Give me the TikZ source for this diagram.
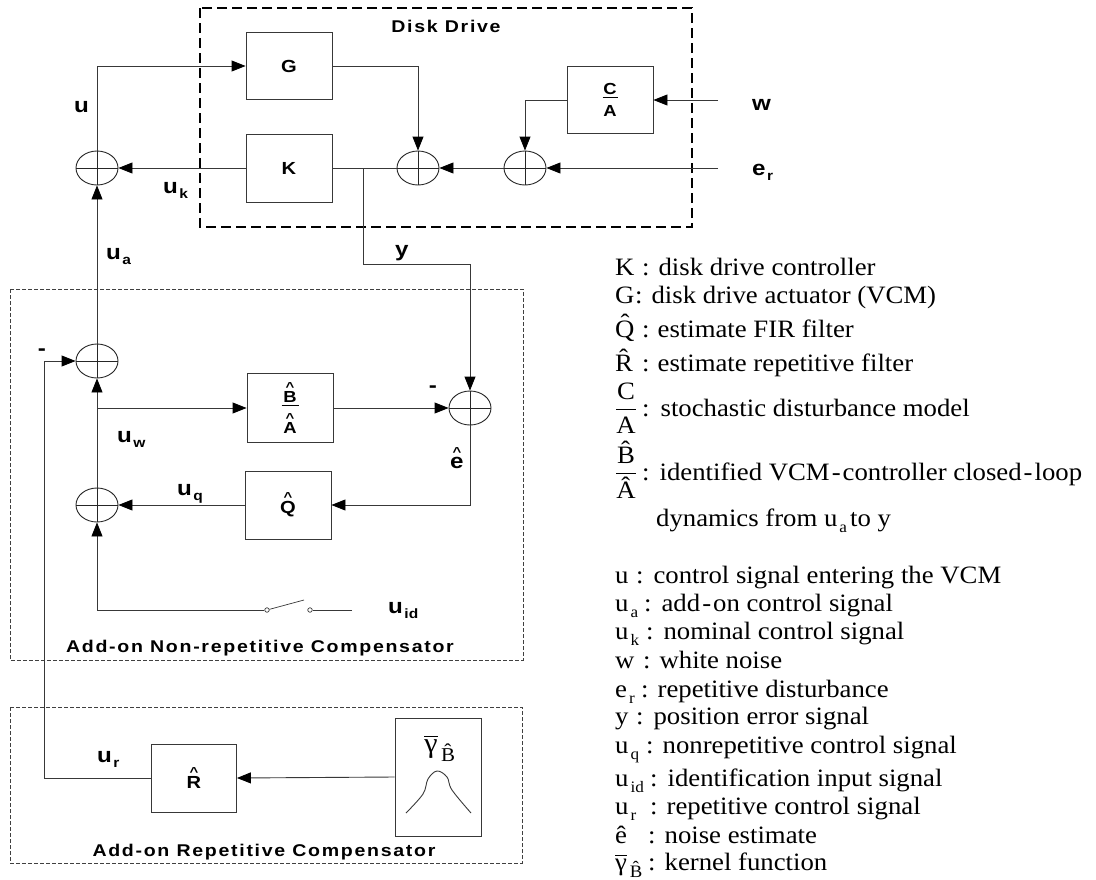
\documentclass[tikz,border=0pt]{standalone}
\usepackage{fontspec}
\usepackage{amsmath}
\usetikzlibrary{shapes.geometric,arrows.meta}
\setmainfont{Liberation Serif}
\newfontfamily\lab{Liberation Sans}[FakeStretch=1.15]
\newfontfamily\labsp{Liberation Sans}[FakeStretch=1.15,LetterSpace=10]
\newfontfamily\legf{Liberation Serif}[FakeStretch=1.07]
\newcommand\hatc[2][13]{\vbox{\offinterlineskip\halign{\hfil##\hfil\cr{\fontsize{#1}{#1}\selectfont\char`\^}\cr\noalign{\kern0pt}#2\cr}}}
\newcommand\fracbox[3]{\vbox{\offinterlineskip\halign{\hfil##\hfil\cr#1\cr\noalign{\kern2pt}\rule{#3}{1.3pt}\cr\noalign{\kern7pt}#2\cr}}}
\newcommand\sbs[1]{\hspace{1.5pt}\raisebox{-5pt}{\fontsize{13.5}{14}\selectfont#1}}
\newcommand\lsub[1]{\hspace{2pt}\raisebox{-6pt}{\fontsize{16}{16}\selectfont#1}}
\newcommand\legpre[3]{\makebox[#1pt][l]{#2}:\hspace{#3pt}}
\newcommand\hy{\hspace{2pt}-\hspace{2pt}}
\begin{document}
\begin{tikzpicture}[x=1pt,y=-1pt,
 conn/.style={draw=black!78, line width=0.9pt},
 arr/.style={conn, -{Triangle[length=14pt,width=11pt,color=black]}},
 blk/.style={draw=black!78, line width=0.9pt, minimum width=86pt, minimum height=68pt, inner sep=0pt, font=\lab\bfseries\fontsize{17.5}{20}\selectfont},
 sumj/.style={ellipse, draw=black!85, line width=0.9pt, minimum width=42pt, minimum height=34pt, inner sep=0pt,
   path picture={\draw[black!85, line width=0.9pt] (path picture bounding box.west) -- (path picture bounding box.east) (path picture bounding box.north) -- (path picture bounding box.south);}},
 sig/.style={inner sep=0pt, anchor=base west, font=\lab\bfseries\fontsize{21}{24}\selectfont},
 ttl/.style={inner sep=0pt, anchor=base, font=\labsp\bfseries\fontsize{17}{20}\selectfont},
 leg/.style={inner sep=0pt, anchor=base west, font=\legf\fontsize{25}{28}\selectfont},
 bigdash/.style={draw=black, line width=2.5pt, dash pattern=on 10pt off 5pt},
 smalldash/.style={draw=black!75, line width=0.8pt, dash pattern=on 4pt off 2pt},
 swc/.style={circle, draw=black!78, line width=0.7pt, fill=white, inner sep=0pt, minimum size=4.5pt}
]
\useasboundingbox (0,0) rectangle (1096,879);

% enclosing boxes
\draw[bigdash] (200,8) rectangle (692,227);
\draw[smalldash] (10,289) rectangle (523,660);
\draw[smalldash] (10,707) rectangle (522,863);

% titles
\node[ttl] (tdd) at (446,32) {Disk Drive};
\node[ttl] (tnr) at (260,652) {Add-on Non-repetitive Compensator};
\node[ttl] (trp) at (264,856) {Add-on Repetitive Compensator};

% blocks
\node[blk, minimum height=67pt] (G) at (289,66) {G};
\node[blk] (K) at (289,168) {K};
\node[blk, minimum height=67pt, font=\lab\bfseries\fontsize{16}{19}\selectfont] (CA) at (610,100) {\fracbox{C}{A}{15pt}};
\node[blk, minimum height=69pt, font=\lab\bfseries\fontsize{16}{19}\selectfont] (BA) at (290,408) {\fracbox{\hatc{B}}{\hatc{A}}{17pt}};
\node[blk] (Q) at (288,505) {\hatc{Q}};
\node[blk, minimum width=85pt] (R) at (194,778) {\hatc{R}};
\node[blk, minimum height=118pt] (kern) at (438,777) {};
\node[inner sep=0pt, font=\legf\fontsize{28}{30}\selectfont] (gam) at (440,748) {$\overline{\mbox{γ}}_{\,\text{\^{B}}}$};
\draw[conn] plot[smooth, tension=0.6] coordinates {(406,813) (423,794) (428,779) (437,771) (447,777) (452,790) (471,813)};

% summing junctions
\node[sumj] (s1) at (97,168) {};
\node[sumj] (s2) at (418,168) {};
\node[sumj] (s3) at (525,168) {};
\node[sumj] (s4) at (470,408) {};
\node[sumj] (s5) at (97,361) {};
\node[sumj] (s6) at (97,505) {};

% switch
\node[swc] (sw1) at (267,610) {};
\node[swc] (sw2) at (310,610) {};
\coordinate (blade) at (304,600);
\coordinate (uidin) at (352,610);

% free ends / branch points
\coordinate (win) at (718,100);
\coordinate (erin) at (718,168);
\coordinate (yb) at (363,168);
\coordinate (yc) at (363,264);
\coordinate (wb) at (97,408);
\coordinate (rc) at (44,778);

% connectors
\draw[arr] (s1.north) |- (G.west);
\draw[arr] (K.west) -- (s1.east);
\draw[arr] (G.east) -| (s2.north);
\draw[arr] (CA.west) -| (s3.north);
\draw[arr] (win) -- (CA.east);
\draw[arr] (erin) -- (s3.east);
\draw[arr] (s3.west) -- (s2.east);
\draw[conn] (s2.west) -- (K.east);
\draw[arr] (yb) -- (yc) -| (s4.north);
\draw[arr] (BA.east) -- (s4.west);
\draw[arr] (s4.south) |- (Q.east);
\draw[arr] (Q.west) -- (s6.east);
\draw[arr] (s6.north) -- (s5.south);
\draw[arr] (wb) -- (BA.west);
\draw[arr] (s5.north) -- (s1.south);
\draw[arr] (R.west) -- (rc) |- (s5.west);
\draw[arr] (kern.west) -- (R.east);
\draw[conn] (uidin) -- (sw2);
\draw[conn, line width=0.7pt] (sw1) -- (blade);
\draw[arr] (sw1) -| (s6.south);

% signal labels
\node[sig] (lu) at (74,112) {u};
\node[sig] (luk) at (163,193) {u\sbs{k}};
\node[sig] (lua) at (106,259) {u\sbs{a}};
\node[sig] (ly) at (395,256) {y};
\node[sig] (lw) at (752,110) {w};
\node[sig] (ler) at (752,175) {e\sbs{r}};
\node[sig] (luw) at (117,442) {u\sbs{w}};
\node[sig] (luq) at (177,495) {u\sbs{q}};
\node[sig] (luid) at (388,613) {u\sbs{id}};
\node[sig] (lur) at (97,762) {u\sbs{r}};
\node[sig] (leh) at (450,468) {\hatc{e}};
\node[inner sep=0pt, font=\lab\bfseries\fontsize{21}{24}\selectfont] (m1) at (42,352) {-};
\node[inner sep=0pt, font=\lab\bfseries\fontsize{21}{24}\selectfont] (m2) at (433,389) {-};

% legend
\node[leg] (l1) at (615,275) {\legpre{27}{K}{9}disk drive controller};
\node[leg] (l2) at (615,303) {\legpre{20}{G}{9}disk drive actuator (VCM)};
\node[leg] (l3) at (615,337) {\legpre{27}{\^{Q}}{8}estimate FIR filter};
\node[leg] (l4) at (615,371) {\legpre{27}{\^{R}}{8}estimate repetitive filter};
\node[leg] (l5) at (615,416) {\legpre{27}{$\displaystyle\frac{\mbox{C}}{\mbox{A}}$}{11}stochastic disturbance model};
\node[leg] (l6) at (615,480) {\legpre{27}{$\displaystyle\frac{\mbox{\^{B}}}{\mbox{\^{A}}}$}{10}identified VCM\hy controller closed\hy loop};
\node[leg] (l7) at (656,526) {dynamics from u\lsub{a}\hspace{3pt}to y};
\node[leg] (l8) at (615,583) {\legpre{21}{u}{10}control signal entering the VCM};
\node[leg] (l9) at (615,611) {\legpre{29}{u\lsub{a}}{10}add\hy on control signal};
\node[leg] (l10) at (615,639) {\legpre{31}{u\lsub{k}}{10}nominal control signal};
\node[leg] (l11) at (615,668) {\legpre{28}{w}{9}white noise};
\node[leg] (l12) at (615,697) {\legpre{26}{e\lsub{r}}{9}repetitive disturbance};
\node[leg] (l13) at (615,724) {\legpre{21}{y}{10}position error signal};
\node[leg] (l14) at (615,753) {\legpre{31}{u\lsub{q}}{9}nonrepetitive control signal};
\node[leg] (l15) at (615,786) {\legpre{35}{u\lsub{id}}{10}identification input signal};
\node[leg] (l16) at (615,814) {\legpre{35}{u\lsub{r}}{9}repetitive control signal};
\node[leg] (l17) at (615,843) {\legpre{33}{\^{e}}{9}noise estimate};
\node[leg] (l18) at (615,870) {\legpre{33}{$\overline{\mbox{γ}}_{\,\text{\^{B}}}$}{9}kernel function};
\end{tikzpicture}
\end{document}
